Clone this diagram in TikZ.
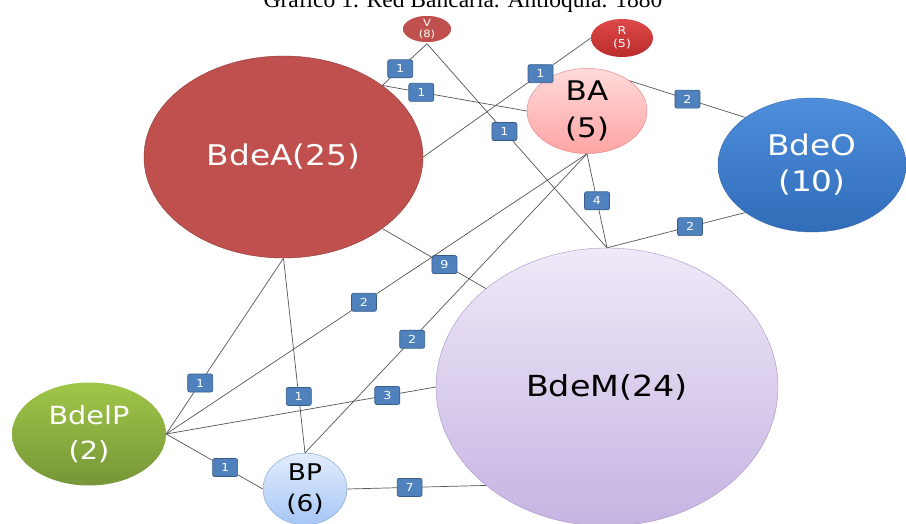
\documentclass[tikz,border=0pt]{standalone}
\usepackage{fontspec}
\usetikzlibrary{shapes.geometric}
\newfontfamily\nodefont[FakeStretch=1.15]{DejaVu Sans}
\newfontfamily\titlefont{Liberation Serif}
\definecolor{rojoA}{HTML}{C0504D}
\definecolor{rojoAborde}{HTML}{8C3A37}
\definecolor{wtfill}{HTML}{4F81BD}
\definecolor{wtline}{HTML}{385D8A}
\definecolor{linegray}{HTML}{555555}
\tikzset{
  banco/.style={ellipse, inner sep=0pt, align=center},
  wt/.style={fill=wtfill, draw=wtline, rounded corners=2pt, minimum width=25pt,
    minimum height=18pt, inner sep=0pt, text=white, font=\nodefont\fontsize{11}{11}\selectfont},
  enlace/.style={draw=linegray, line width=0.7pt},
}
\begin{document}
\begin{tikzpicture}[x=1pt,y=-1pt]
  \useasboundingbox (0,0) rectangle (906,523);
  \node[anchor=base, font=\titlefont\fontsize{23.5}{24}\selectfont] (titulo) at (463,7) {Gráfico 1. Red Bancaria. Antioquia. 1880};
  \node[banco, fill=rojoA, draw=rojoAborde, minimum width=279pt, minimum height=202pt,
        text=white, font=\nodefont\fontsize{28.5}{34}\selectfont] (BdeA) at (283.5,157) {BdeA(25)};
  \node[banco, fill=rojoA, draw=white, line width=1.5pt, minimum width=50pt, minimum height=28pt,
        text=white, font=\nodefont\fontsize{10}{11}\selectfont] (V) at (427,29) {V\\(8)};
  \node[banco, top color={rgb,255:red,222;green,72;blue,72}, bottom color={rgb,255:red,186;green,44;blue,44},
        minimum width=62pt, minimum height=38pt,
        text=white, font=\nodefont\fontsize{11}{13}\selectfont] (R) at (622,38) {R\\(5)};
  \node[banco, top color={rgb,255:red,255;green,218;blue,218}, bottom color={rgb,255:red,255;green,164;blue,164},
        draw={rgb,255:red,226;green,128;blue,128}, minimum width=120pt, minimum height=77pt,
        font=\nodefont\fontsize{27}{37}\selectfont] (BA) at (587,111) {BA\\(5)};
  \node[banco, top color={rgb,255:red,78;green,142;blue,220}, bottom color={rgb,255:red,48;green,108;blue,184},
        draw={rgb,255:red,58;green,105;blue,168}, minimum width=188pt, minimum height=134pt,
        text=white, font=\nodefont\fontsize{28.5}{36}\selectfont] (BdeO) at (812,165) {BdeO\\(10)};
  \node[banco, top color={rgb,255:red,239;green,233;blue,248}, bottom color={rgb,255:red,198;green,180;blue,226},
        draw={rgb,255:red,165;green,145;blue,200}, minimum width=342pt, minimum height=278pt,
        font=\nodefont\fontsize{29}{34}\selectfont] (BdeM) at (607,387) {BdeM(24)};
  \node[banco, top color={rgb,255:red,160;green,198;blue,72}, bottom color={rgb,255:red,118;green,150;blue,56},
        minimum width=154pt, minimum height=103pt,
        text=white, font=\nodefont\fontsize{25}{35}\selectfont] (BdelP) at (89,434) {BdelP\\(2)};
  \node[banco, top color={rgb,255:red,226;green,237;blue,253}, bottom color={rgb,255:red,166;green,198;blue,246},
        draw={rgb,255:red,125;green,160;blue,212}, minimum width=84pt, minimum height=66pt,
        font=\nodefont\fontsize{23}{31}\selectfont] (BP) at (305,489) {BP\\(6)};
  \draw[enlace] (V.south) -- node[wt, pos=0.6] {1} (BdeA.north east);
  \draw[enlace] (V.south) -- node[wt, pos=0.43] {1} (BdeM.north);
  \draw[enlace] (BdeA.north east) -- node[wt, pos=0.27] {1} (BA.west);
  \draw[enlace] (BdeA.east) -- node[wt, pos=0.7] {1} (R.west);
  \draw[enlace] (BA.north east) -- node[wt] {2} (BdeO.north west);
  \draw[enlace] (BA.south) -- node[wt] {4} (BdeM.north);
  \draw[enlace] (BdeO.south west) -- node[wt, pos=0.4] {2} (BdeM.north);
  \draw[enlace] (BdeA.south east) -- node[wt, pos=0.6] {9} (BdeM.north west);
  \draw[enlace] (BdeA.south) -- node[wt, pos=0.71] {1} (BdelP.east);
  \draw[enlace] (BdeA.south) -- node[wt, pos=0.71] {1} (BP.north);
  \draw[enlace] (BdelP.east) -- node[wt, pos=0.47] {2} (BA.south);
  \draw[enlace] (BP.north) -- node[wt, pos=0.38] {2} (BA.south);
  \draw[enlace] (BdelP.east) -- node[wt, pos=0.82] {3} (BdeM.west);
  \draw[enlace] (BdelP.east) -- node[wt, pos=0.61] {1} (BP.west);
  \draw[enlace] (BP.east) -- node[wt, pos=0.45] {7} (BdeM.south west);
\end{tikzpicture}
\end{document}
